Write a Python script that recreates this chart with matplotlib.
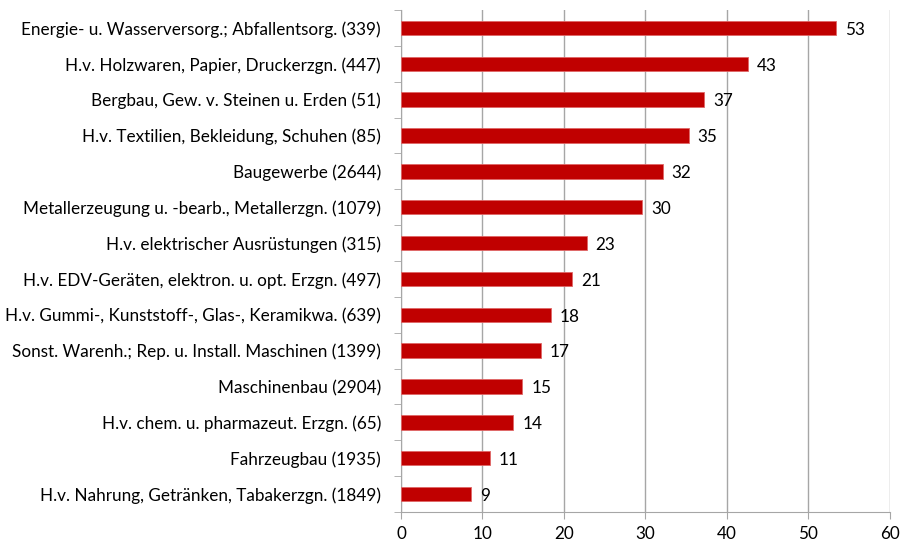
import matplotlib
matplotlib.use("Agg")
import matplotlib.pyplot as plt
import numpy as np

# Sample data (top to bottom as shown)
categories = [
    "Energie- u. Wasserversorg.; Abfallentsorg. (339)",
    "H.v. Holzwaren, Papier, Druckerzgn. (447)",
    "Bergbau, Gew. v. Steinen u. Erden (51)",
    "H.v. Textilien, Bekleidung, Schuhen (85)",
    "Baugewerbe (2644)",
    "Metallerzeugung u. -bearb., Metallerzgn. (1079)",
    "H.v. elektrischer Ausrüstungen (315)",
    "H.v. EDV-Geräten, elektron. u. opt. Erzgn. (497)",
    "H.v. Gummi-, Kunststoff-, Glas-, Keramikwa. (639)",
    "Sonst. Warenh.; Rep. u. Install. Maschinen (1399)",
    "Maschinenbau (2904)",
    "H.v. chem. u. pharmazeut. Erzgn. (65)",
    "Fahrzeugbau (1935)",
    "H.v. Nahrung, Getränken, Tabakerzgn. (1849)",
]
values = [53.4, 42.6, 37.2, 35.3, 32.1, 29.6, 22.8, 21.0, 18.4, 17.2, 14.9, 13.8, 10.9, 8.6]
xticks = [0, 10, 20, 30, 40, 50, 60]

plt.rcParams['font.family'] = ['Lato', 'DejaVu Sans']
grey = '#a6a6a6'
fs = 12.3

fig = plt.figure(figsize=(9.01, 5.43), dpi=100)
ax = fig.add_axes([0.445, 0.0571, 0.5427, 0.9245])

y = np.arange(len(categories))
ax.barh(y, values, height=0.4, color='#C00000', edgecolor='#e06666', linewidth=0.6, zorder=3)

for yi, v in zip(y, values):
    ax.text(v + 1.1, yi + 0.05, f"{v:.0f}", va='center', ha='left', fontsize=fs, color='black')

ax.set_ylim(len(categories) - 0.5, -0.5)
ax.set_xlim(0, 60)
ax.set_xticks(xticks)
ax.set_yticks(y)
ax.set_yticklabels(categories, fontsize=fs)
ax.set_yticks(np.arange(-0.5, len(categories), 1), minor=True)
ax.tick_params(axis='y', which='major', length=0, pad=14.4)
ax.tick_params(axis='y', which='minor', length=5, color=grey, direction='out')
ax.tick_params(axis='x', length=5, color=grey, labelsize=fs, pad=5)

ax.grid(axis='x', color=grey, linewidth=1, zorder=0)
for s in ['top', 'right']:
    ax.spines[s].set_visible(False)
for s in ['left', 'bottom']:
    ax.spines[s].set_color(grey)

fig.savefig('out.png', dpi=100)
